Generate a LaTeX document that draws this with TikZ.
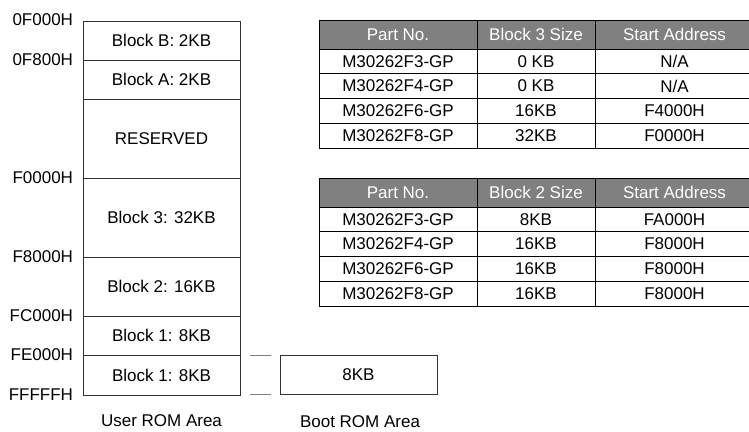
\documentclass[tikz,border=0pt]{standalone}
\usepackage{fontspec}
\setmainfont{Liberation Sans}
\definecolor{hdrgray}{RGB}{128,128,128}
\definecolor{blkline}{RGB}{50,50,50}
\newcommand\mytabrow[5]{%
  \node[cell, minimum width=158pt] (#1a) at (319,#2) {#3};
  \node[cell, minimum width=118pt] (#1b) at (477,#2) {#4};
  \node[cell, minimum width=159pt] (#1c) at (595,#2) {#5};}
\newcommand\myhdrrow[3]{%
  \node[hcell, minimum width=158pt] (#1a) at (319,#2) {Part No.};
  \node[hcell, minimum width=118pt] (#1b) at (477,#2) {#3};
  \node[hcell, minimum width=159pt] (#1c) at (595,#2) {Start Address};}
\begin{document}
\begin{tikzpicture}[x=1pt,y=-1pt,
  every node/.style={font=\fontsize{17}{20}\selectfont, inner sep=0pt, outer sep=0pt},
  memblk/.style={draw=blkline, line width=0.9pt, minimum width=157pt, anchor=north west},
  addr/.style={anchor=east},
  cell/.style={draw=black, line width=0.8pt, anchor=north west, minimum height=24.75pt},
  hcell/.style={cell, fill=hdrgray, text=white, minimum height=29pt},
  tickln/.style={draw=gray, line width=0.8pt}]
\useasboundingbox (0,0) rectangle (749,431);
\clip (0,0) rectangle (749,431);
% memory map
\node[memblk, minimum height=39pt] (bB) at (83,21) {Block B: 2KB};
\node[memblk, minimum height=39pt] (bA) at (83,60) {Block A: 2KB};
\node[memblk, minimum height=79pt] (res) at (83,99) {RESERVED};
\node[memblk, minimum height=79pt] (b3) at (83,178) {Block 3: 32KB};
\node[memblk, minimum height=59pt] (b2) at (83,257) {Block 2: 16KB};
\node[memblk, minimum height=39pt] (b1a) at (83,316) {Block 1: 8KB};
\node[memblk, minimum height=40pt] (b1b) at (83,355) {Block 1: 8KB};
% addresses
\node[addr] (ad1) at (73,20) {0F000H};
\node[addr] (ad2) at (73,60) {0F800H};
\node[addr] (ad3) at (73,178) {F0000H};
\node[addr] (ad4) at (73,257) {F8000H};
\node[addr] (ad5) at (73,316) {FC000H};
\node[addr] (ad6) at (73,355) {FE000H};
\node[addr] (ad7) at (73,394.5) {FFFFFH};
% boot rom
\node[memblk, minimum height=39pt] (boot) at (280,355) {8KB};
\coordinate (t1s) at (250,355);
\coordinate (t1e) at (271,355);
\coordinate (t2s) at (250,394.5);
\coordinate (t2e) at (271,394.5);
\draw[tickln] (t1s) -- (t1e);
\draw[tickln] (t2s) -- (t2e);
% captions
\node (ucap) at (161.5,421) {User ROM Area};
\node (bcap) at (360,422) {Boot ROM Area};
% table 1
\myhdrrow{ta}{20}{Block 3 Size}
\mytabrow{taA}{49}{M30262F3-GP}{0 KB}{N/A}
\mytabrow{taB}{73.75}{M30262F4-GP}{0 KB}{N/A}
\mytabrow{taC}{98.5}{M30262F6-GP}{16KB}{F4000H}
\mytabrow{taD}{123.25}{M30262F8-GP}{32KB}{F0000H}
% table 2
\myhdrrow{tb}{178}{Block 2 Size}
\mytabrow{tbA}{207}{M30262F3-GP}{8KB}{FA000H}
\mytabrow{tbB}{231.75}{M30262F4-GP}{16KB}{F8000H}
\mytabrow{tbC}{256.5}{M30262F6-GP}{16KB}{F8000H}
\mytabrow{tbD}{281.25}{M30262F8-GP}{16KB}{F8000H}
\end{tikzpicture}
\end{document}
